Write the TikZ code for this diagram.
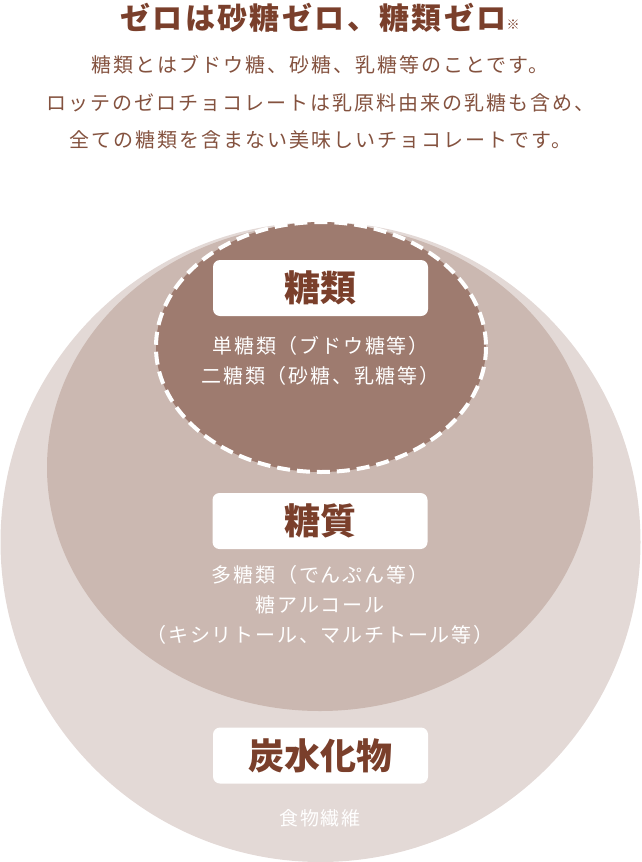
\documentclass[tikz,border=0pt]{standalone}
\usepackage{fontspec}
\usepackage{xcolor}
\usepackage{tikz}
\usetikzlibrary{positioning}
\newfontfamily\jpfont{Noto Sans CJK JP}
\newfontfamily\jptitle[LetterSpace=8]{Noto Sans CJK JP}
\newfontfamily\jpwide[LetterSpace=10]{Noto Sans CJK JP}
\newfontfamily\jpmid[LetterSpace=9]{Noto Sans CJK JP}
\definecolor{outerfill}{HTML}{E3D9D6}
\definecolor{middlefill}{HTML}{CBB8B1}
\definecolor{innerfill}{HTML}{9E7B6F}
\definecolor{headbrown}{HTML}{7A3F2B}
\definecolor{textbrown}{HTML}{84523F}

\tikzset{
  labelbox/.style={fill=white, rounded corners=7pt, minimum width=215pt, minimum height=56pt,
    inner sep=0pt, text=headbrown, font=\jpfont\bfseries\fontsize{36}{36}\selectfont},
  sublabel/.style={text=white, align=center, inner sep=0pt,
    font=\jpmid\fontsize{20}{30}\selectfont}
}

\begin{document}
\begin{tikzpicture}[x=1pt, y=-1pt]
    \useasboundingbox (0,0) rectangle (641,862);

    % Heading and explanation
    \node[text=headbrown, inner sep=0pt, font=\jptitle\bfseries\fontsize{30}{30}\selectfont] (title) at (320, 18)
      {ゼロは砂糖ゼロ、糖類ゼロ{\fontsize{13}{13}\selectfont ※}};
    \node[text=textbrown, align=center, inner sep=0pt, font=\jpwide\fontsize{20}{37.5}\selectfont] (intro) at (320, 102.5)
      {糖類とはブドウ糖、砂糖、乳糖等のことです。\\
       ロッテのゼロチョコレートは乳原料由来の乳糖も含め、\\
       全ての糖類を含まない美味しいチョコレートです。};

    % Nested sets
    \fill[outerfill] (320.5, 542) circle [radius=320];
    \fill[middlefill] (320, 467.5) circle [x radius=273, y radius=243.5];
    \fill[innerfill] (321, 347) circle [x radius=165, y radius=125];
    \draw[white, line width=4pt, dash pattern=on 13pt off 7pt] (321, 347) circle [x radius=165, y radius=125];

    % Sugars
    \node[labelbox] (sugars) at (320.5, 288) {糖類};
    \node[sublabel] (sugarsitems) at (320.5, 361)
      {単糖類（ブドウ糖等）\\二糖類（砂糖、乳糖等）};

    % Saccharides
    \node[labelbox] (saccharides) at (320, 521) {糖質};
    \node[sublabel] (saccharidesitems) at (320, 605)
      {多糖類（でんぷん等）\\糖アルコール\\（キシリトール、マルチトール等）};

    % Carbohydrates
    \node[labelbox] (carbs) at (320.5, 755.5) {炭水化物};
    \node[sublabel, font=\jpmid\fontsize{19}{19}\selectfont] (carbsitems) at (320, 818) {食物繊維};
  \end{tikzpicture}
\end{document}
